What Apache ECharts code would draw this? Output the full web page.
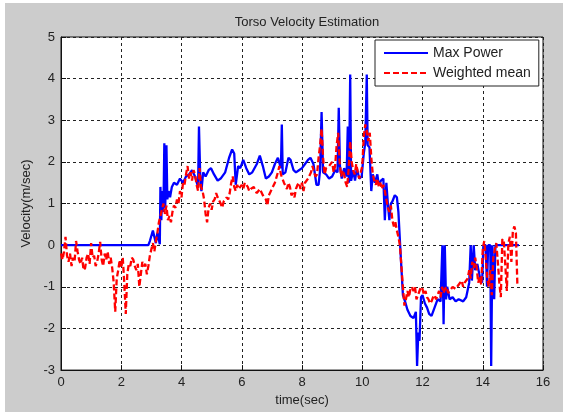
<!DOCTYPE html>
<html><head><meta charset="utf-8">
<script src="https://cdn.jsdelivr.net/npm/echarts@6/dist/echarts.min.js"></script>
<style>html,body{margin:0;padding:0;background:#fff}#c{width:563px;height:412px}</style>
</head><body><div id="c"></div>
<script>
var xTicks = [0, 2, 4, 6, 8, 10, 12, 14, 16];
var yTicks = [-3, -2, -1, 0, 1, 2, 3, 4, 5];
var seriesNames = ['Max Power', 'Weighted mean'];

var maxPowerTime = [0,2.9,2.95,3.05,3.1,3.15,3.2,3.28,3.3,3.33,3.36,3.4,3.43,3.46,3.5,3.53,3.57,3.62,3.68,3.75,3.85,3.95,4.05,4.15,4.25,4.35,4.45,4.55,4.58,4.62,4.66,4.72,4.8,4.9,4.98,5.08,5.2,5.3,5.45,5.58,5.68,5.75,5.8,5.88,5.95,6.05,6.15,6.25,6.35,6.5,6.6,6.7,6.8,6.9,7.0,7.1,7.2,7.3,7.33,7.36,7.45,7.55,7.62,7.72,7.8,7.9,8.0,8.1,8.2,8.28,8.38,8.48,8.55,8.6,8.65,8.7,8.8,8.9,9.0,9.1,9.18,9.22,9.26,9.32,9.4,9.48,9.52,9.56,9.6,9.63,9.7,9.76,9.82,9.9,9.98,10.05,10.1,10.15,10.18,10.24,10.3,10.35,10.42,10.5,10.55,10.62,10.7,10.75,10.8,10.85,10.9,10.95,11.0,11.08,11.15,11.2,11.28,11.35,11.42,11.5,11.6,11.7,11.78,11.82,11.86,11.9,11.95,12.0,12.08,12.15,12.22,12.3,12.4,12.5,12.6,12.66,12.7,12.74,12.78,12.82,12.9,13.0,13.1,13.2,13.35,13.45,13.55,13.6,13.64,13.7,13.75,13.82,13.9,13.98,14.02,14.1,14.14,14.18,14.25,14.28,14.32,14.38,14.42,15.2];
var maxPowerVel = [0,0,0.1,0.35,0.2,0.05,0.3,0.02,1.4,0.6,1.3,0.8,2.45,0.9,2.4,1.1,1.3,1.15,1.4,1.5,1.45,1.6,1.5,1.65,1.7,1.8,1.65,1.4,2.85,1.7,1.3,1.75,1.65,1.8,1.85,1.7,1.55,1.6,1.75,2.1,2.3,2.2,1.45,1.9,1.85,2.05,1.85,1.7,1.75,1.95,2.15,1.9,1.6,1.65,1.75,1.95,2.1,1.85,2.9,1.7,1.75,2.1,2.05,1.8,1.75,1.8,1.85,1.95,2.05,2.1,1.95,1.45,1.45,1.8,3.2,1.75,1.7,1.6,1.65,1.8,1.75,3.3,1.9,1.6,1.85,1.65,2.85,1.5,4.1,1.55,1.8,1.55,1.85,1.6,1.65,2.2,2.45,4.1,2.4,2.35,1.3,1.7,1.5,1.7,1.45,1.55,1.6,0.6,1.5,1.0,0.6,1.0,1.05,1.2,1.15,0.8,-0.3,-1.2,-1.35,-1.55,-1.7,-1.75,-1.6,-2.9,-2.1,-2.3,-1.25,-1.2,-1.4,-1.5,-1.65,-1.7,-1.5,-1.3,-1.35,0,-1.9,0,-1.3,-1.0,-1.3,-1.25,-1.35,-1.3,-1.35,-1.25,-0.9,0,-0.85,0,-0.6,-0.45,-0.75,-0.9,0,0,-1.0,0,0,-2.9,0,-1.3,0,0];

var meanTime = [0,0.05,0.1,0.15,0.2,0.25,0.3,0.35,0.4,0.45,0.5,0.55,0.6,0.65,0.7,0.75,0.8,0.85,0.9,0.95,1.0,1.05,1.1,1.15,1.2,1.25,1.3,1.35,1.4,1.45,1.5,1.55,1.6,1.65,1.7,1.75,1.8,1.85,1.9,1.95,2.0,2.05,2.1,2.15,2.2,2.25,2.3,2.35,2.4,2.45,2.5,2.55,2.6,2.65,2.7,2.75,2.8,2.85,2.9,2.95,3.0,3.05,3.1,3.15,3.2,3.25,3.3,3.35,3.4,3.45,3.5,3.55,3.6,3.65,3.7,3.75,3.8,3.85,3.9,3.95,4.0,4.05,4.1,4.15,4.2,4.25,4.3,4.35,4.4,4.45,4.5,4.55,4.6,4.65,4.7,4.75,4.8,4.85,4.9,4.95,5.0,5.05,5.1,5.15,5.2,5.3,5.35,5.4,5.5,5.55,5.6,5.65,5.7,5.75,5.8,5.85,5.9,6.0,6.05,6.1,6.2,6.25,6.3,6.4,6.45,6.5,6.6,6.7,6.8,6.85,6.9,7.0,7.1,7.2,7.25,7.3,7.35,7.4,7.5,7.55,7.6,7.65,7.7,7.75,7.8,7.85,7.9,7.95,8.0,8.05,8.1,8.2,8.3,8.35,8.4,8.45,8.5,8.55,8.6,8.65,8.7,8.75,8.8,8.9,9.0,9.05,9.1,9.15,9.2,9.25,9.3,9.35,9.4,9.45,9.5,9.55,9.6,9.65,9.7,9.75,9.8,9.85,9.9,9.95,10.0,10.05,10.1,10.15,10.2,10.25,10.3,10.35,10.4,10.45,10.5,10.55,10.6,10.65,10.7,10.75,10.8,10.85,10.9,10.95,11.0,11.05,11.1,11.15,11.2,11.25,11.3,11.35,11.4,11.45,11.5,11.55,11.6,11.65,11.7,11.75,11.8,11.85,11.9,11.95,12.0,12.05,12.1,12.15,12.2,12.25,12.3,12.35,12.4,12.45,12.5,12.55,12.6,12.65,12.7,12.75,12.8,12.85,12.9,13.0,13.1,13.2,13.3,13.35,13.4,13.5,13.55,13.6,13.65,13.7,13.75,13.8,13.85,13.9,13.95,14.0,14.05,14.1,14.15,14.2,14.25,14.3,14.35,14.4,14.45,14.5,14.55,14.6,14.65,14.7,14.75,14.8,14.85,14.9,14.95,15.0,15.05,15.1,15.15];
var meanVel = [-0.2,-0.35,-0.15,0.2,-0.25,-0.4,-0.2,-0.5,-0.3,-0.4,0.1,-0.15,-0.35,-0.45,-0.3,-0.6,-0.55,-0.3,-0.2,-0.45,0.05,-0.3,-0.25,-0.5,-0.4,-0.2,0.08,-0.35,-0.5,-0.2,-0.35,-0.15,-0.45,-0.3,-0.55,-0.9,-1.6,-0.8,-0.6,-0.35,-0.55,-0.3,-0.9,-1.65,-0.7,-0.45,-0.5,-0.3,-0.35,-0.5,-0.6,-0.45,-1.0,-0.7,-0.4,-0.5,-0.45,-0.7,-0.5,-0.25,-0.1,0.05,-0.15,0.1,0.3,0.55,0.7,0.85,1.0,0.75,0.95,0.6,0.7,0.55,0.8,0.95,0.9,1.1,1.0,1.3,1.15,1.5,1.45,1.7,1.9,1.6,1.75,1.55,1.8,1.7,1.45,1.3,1.85,1.4,1.3,1.1,0.75,0.55,0.9,1.0,0.85,1.05,1.1,1.25,1.15,1.0,0.9,1.05,1.15,1.1,1.25,1.5,1.65,1.4,1.3,1.45,1.35,1.45,1.35,1.5,1.4,1.3,1.35,1.4,1.3,1.25,1.35,1.2,1.1,0.95,1.2,1.35,1.5,1.75,1.9,1.7,1.6,1.5,1.35,1.5,1.4,1.2,1.25,1.15,1.35,1.45,1.5,1.35,1.5,1.3,1.5,1.6,1.75,1.9,1.75,1.65,1.7,2.1,2.4,2.8,2.1,1.7,1.85,1.9,2.0,1.75,1.9,2.4,2.7,2.0,1.65,1.8,1.7,1.5,1.4,1.85,2.5,2.0,1.8,1.7,1.95,1.75,1.6,1.75,1.9,2.6,2.9,2.75,2.5,2.7,2.1,1.7,1.55,1.45,1.6,1.4,1.5,1.35,1.45,1.3,1.1,0.9,0.8,0.95,0.6,0.45,0.55,0.35,0.2,0,-0.5,-1.0,-1.45,-1.3,-1.1,-1.25,-1.05,-1.0,-1.1,-1.0,-1.3,-1.2,-1.1,-1.0,-1.05,-1.2,-1.1,-1.25,-1.3,-1.4,-1.35,-1.25,-1.2,-1.3,-1.2,-1.1,-1.25,-1.0,-1.15,-1.05,-1.0,-1.15,-1.1,-1.0,-1.05,-0.95,-0.85,-1.0,-0.9,-0.8,-0.6,-0.8,-0.4,-0.55,-0.3,-0.55,-0.9,-0.75,-0.95,-0.1,0.1,-0.3,-0.8,-1.0,-0.6,-1.2,-0.3,-0.1,0.05,-0.4,-0.9,-1.25,0.15,0.1,-0.5,-1.1,0.05,0.2,-0.4,0.35,0.45,0.3,-0.97];

function zip(a, b) { var r = []; for (var i = 0; i < a.length; i++) r.push([a[i], b[i]]); return r; }

var font = 'Arial, "Liberation Sans", sans-serif';
var chart = echarts.init(document.getElementById('c'), null, {renderer: 'canvas'});
chart.setOption({
  backgroundColor: '#ffffff',
  animation: false,
  graphic: [{type: 'rect', z: -10, shape: {x: 5, y: 3, width: 558, height: 409}, style: {fill: '#cccccc'}}],
  title: {text: 'Torso Velocity Estimation', left: 302, top: 11, textAlign: 'center',
    textStyle: {fontFamily: font, fontSize: 13, fontWeight: 'normal', color: '#222'}},
  legend: {
    orient: 'vertical', left: 375, top: 40, padding: [6, 8, 6, 8], itemGap: 6,
    itemWidth: 44, itemHeight: 14, backgroundColor: '#fff', borderColor: '#222', borderWidth: 1,
    itemStyle: {opacity: 0},
    textStyle: {fontFamily: font, fontSize: 14, color: '#222', padding: [0, 4, 0, 0]},
    data: seriesNames
  },
  grid: {left: 61, right: 20, top: 37, bottom: 41, show: true, backgroundColor: '#fff', borderColor: '#111', borderWidth: 1},
  xAxis: {
    type: 'value', min: xTicks[0], max: xTicks[xTicks.length - 1], interval: 2,
    name: 'time(sec)', nameLocation: 'middle', nameGap: 20,
    nameTextStyle: {fontFamily: font, fontSize: 13, color: '#222'},
    axisLine: {onZero: false, lineStyle: {color: '#111'}}, axisTick: {inside: true, length: 5, lineStyle: {color: '#111'}},
    axisLabel: {fontFamily: font, fontSize: 13, color: '#222', margin: 6},
    splitLine: {show: true, lineStyle: {color: '#222', type: [3, 3], width: 1}}
  },
  yAxis: {
    type: 'value', min: yTicks[0], max: yTicks[yTicks.length - 1], interval: 1,
    name: 'Velocity(m/sec)', nameLocation: 'middle', nameGap: 21,
    nameTextStyle: {fontFamily: font, fontSize: 13, color: '#222'},
    axisLine: {onZero: false, lineStyle: {color: '#111'}}, axisTick: {inside: true, length: 5, lineStyle: {color: '#111'}},
    axisLabel: {fontFamily: font, fontSize: 13, color: '#222', margin: 6},
    splitLine: {show: true, lineStyle: {color: '#222', type: [3, 3], width: 1}}
  },
  series: [
    {name: seriesNames[0], type: 'line', data: zip(maxPowerTime, maxPowerVel), showSymbol: false, symbol: 'none',
     lineStyle: {color: '#0000ff', width: 2.3}, itemStyle: {color: '#0000ff'}},
    {name: seriesNames[1], type: 'line', data: zip(meanTime, meanVel), showSymbol: false, symbol: 'none',
     lineStyle: {color: '#ff0000', width: 2.3, type: [6, 3]}, itemStyle: {color: '#ff0000'}}
  ]
});
</script></body></html>
